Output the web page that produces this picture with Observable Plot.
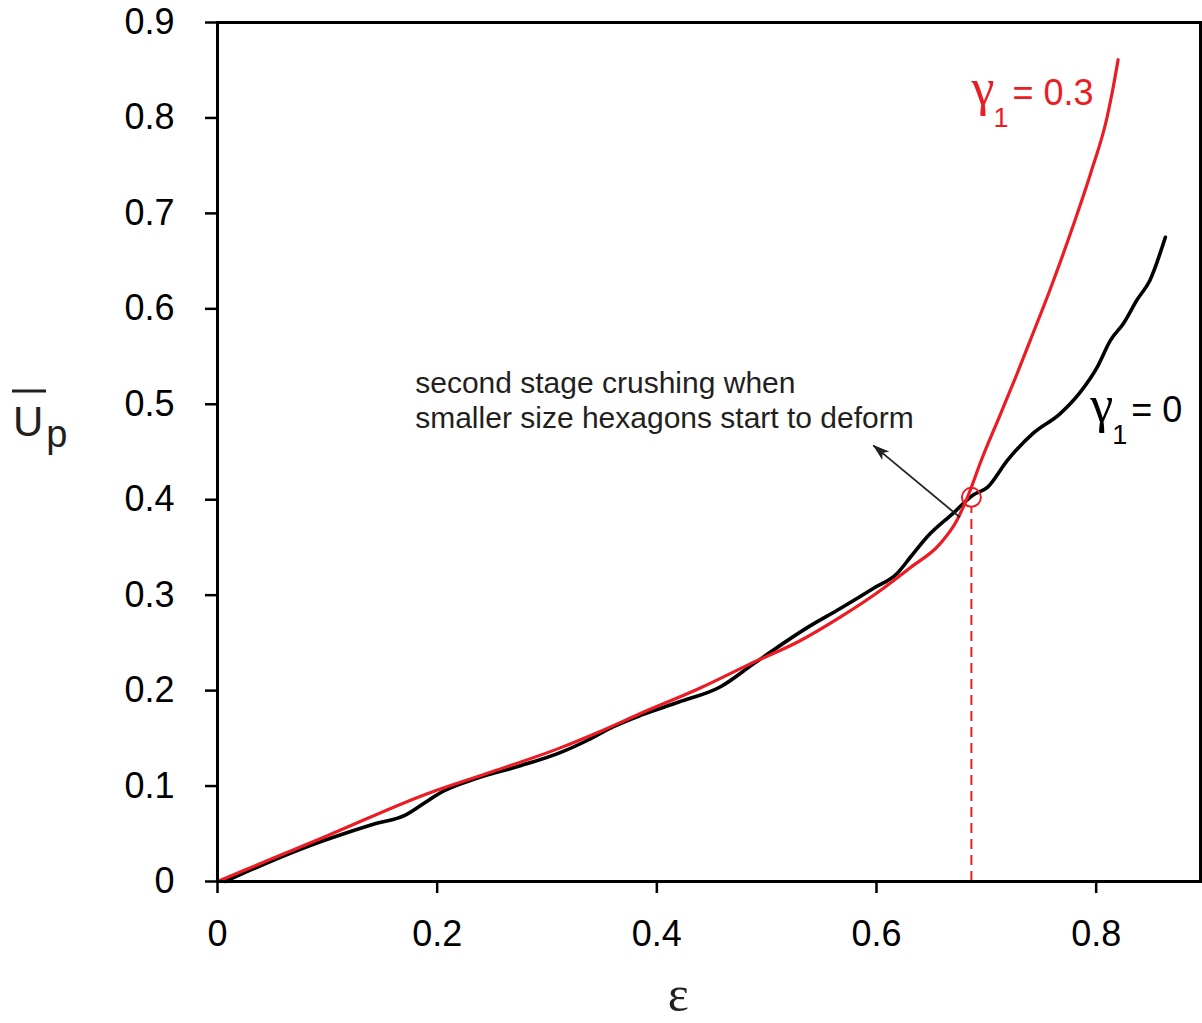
<!DOCTYPE html>
<html>
<head>
<meta charset="utf-8">
<script src="https://cdn.jsdelivr.net/npm/d3@7"></script>
<script src="https://cdn.jsdelivr.net/npm/@observablehq/plot@0.6"></script>
<style>
  html, body { margin: 0; padding: 0; background: #fff; }
  #chart { width: 1202px; height: 1023px; }
</style>
</head>
<body>
<div id="chart"></div>
<script>
// γ1 = 0 (black)
const eps0 = [0.007, 0.04, 0.085, 0.115, 0.145, 0.17, 0.188, 0.203, 0.236, 0.275, 0.312, 0.337, 0.36, 0.385, 0.42, 0.458, 0.488, 0.537, 0.567, 0.597, 0.619, 0.631, 0.646, 0.67, 0.688, 0.701, 0.719, 0.743, 0.767, 0.785, 0.801, 0.813, 0.825, 0.837, 0.849, 0.863];
const up0  = [0.0, 0.017, 0.038, 0.05, 0.061, 0.069, 0.082, 0.093, 0.108, 0.121, 0.135, 0.148, 0.162, 0.174, 0.188, 0.204, 0.228, 0.266, 0.286, 0.307, 0.323, 0.34, 0.361, 0.386, 0.405, 0.413, 0.441, 0.47, 0.49, 0.512, 0.539, 0.567, 0.585, 0.609, 0.63, 0.675];
// γ1 = 0.3 (red)
const eps3 = [0.0, 0.05, 0.1, 0.191, 0.25, 0.312, 0.35, 0.385, 0.44, 0.485, 0.53, 0.567, 0.6, 0.631, 0.658, 0.673, 0.683, 0.695, 0.713, 0.728, 0.74, 0.758, 0.779, 0.795, 0.81, 0.815, 0.82];
const up3  = [0.0, 0.024, 0.048, 0.092, 0.115, 0.14, 0.158, 0.176, 0.203, 0.228, 0.252, 0.277, 0.302, 0.329, 0.354, 0.378, 0.403, 0.44, 0.49, 0.532, 0.567, 0.62, 0.687, 0.742, 0.801, 0.829, 0.861];

const xTicks = [0, 0.2, 0.4, 0.6, 0.8];
const yTicks = [0, 0.1, 0.2, 0.3, 0.4, 0.5, 0.6, 0.7, 0.8, 0.9];

// second-stage crushing point
const markX = [0.6864];
const markY = [0.4025];
const arrowFrom = [0.676, 0.3815];
const arrowTo = [0.597, 0.457];

const noteLines = ["second stage crushing when", "smaller size hexagons start to deform"];
const noteY = [0.5115, 0.475];
const labelRed = {g: "γ", sub: "1", rest: "= 0.3", x: 0.687, y: 0.813};
const labelBlack = {g: "γ", sub: "1", rest: "= 0", x: 0.795, y: 0.481};

const RED = "#ec1c24";

const black = eps0.map((e, i) => ({x: e, y: up0[i]}));
const red = eps3.map((e, i) => ({x: e, y: up3[i]}));

const plot = Plot.plot({
  width: 1202,
  height: 1023,
  marginLeft: 217,
  marginRight: 2,
  marginTop: 22,
  marginBottom: 142,
  x: {domain: [0, 0.895]},
  y: {domain: [0, 0.9]},
  style: {fontFamily: "'Liberation Sans', Arial, sans-serif", fontSize: "36px", background: "white", color: "black"},
  marks: [
    Plot.line(black, {x: "x", y: "y", stroke: "#000", strokeWidth: 3.6, curve: "monotone-x"}),
    Plot.line(red, {x: "x", y: "y", stroke: RED, strokeWidth: 3.2, curve: "monotone-x"}),
    Plot.ruleX(markX, {x: d => d, y1: 0, y2: 0.392, stroke: RED, strokeWidth: 2, strokeDasharray: "10,6"}),
    Plot.dot(markX.map((d, i) => ({x: d, y: markY[i]})), {x: "x", y: "y", r: 9.5, stroke: RED, strokeWidth: 2, fill: "none"}),
    Plot.link([{x1: arrowFrom[0], y1: arrowFrom[1], x2: arrowTo[0], y2: arrowTo[1]}], {x1: "x1", y1: "y1", x2: "x2", y2: "y2", stroke: "#222", strokeWidth: 1.8}),
    Plot.text(noteLines.map((t, i) => ({t, y: noteY[i]})), {x: 0.18, y: "y", text: "t", textAnchor: "start", lineAnchor: "bottom", fontSize: 30, fill: "#231f20"}),
    Plot.frame({stroke: "#000", strokeWidth: 3}),
    Plot.axisX({ticks: xTicks, tickSize: 12, tickPadding: 27, strokeWidth: 2.5, label: null, fontSize: 36, tickFormat: d => d === 0 ? "0" : d.toFixed(1)}),
    Plot.axisY({ticks: yTicks, tickSize: 12, tickPadding: 31, strokeWidth: 2.5, label: null, fontSize: 36, tickFormat: d => d === 0 ? "0" : d.toFixed(1)})
  ]
});

document.getElementById("chart").appendChild(plot);

const sx = plot.scale("x"), sy = plot.scale("y");
const svg = d3.select(plot);

// filled arrow head at the arrow's end, oriented along the link (pixel space via Plot scales)
{
  const x1 = sx.apply(arrowFrom[0]), y1 = sy.apply(arrowFrom[1]);
  const x2 = sx.apply(arrowTo[0]), y2 = sy.apply(arrowTo[1]);
  const L = Math.hypot(x2 - x1, y2 - y1);
  const ux = (x2 - x1) / L, uy = (y2 - y1) / L;
  const len = 17, half = 5.5;
  const bx = x2 - ux * len, by = y2 - uy * len;
  const pts = [[x2, y2], [bx - uy * half, by + ux * half], [x2 - ux * len * 0.75, y2 - uy * len * 0.75], [bx + uy * half, by - ux * half]];
  svg.append("polygon").attr("points", pts.map(p => p.join(",")).join(" ")).attr("fill", "#222");
}

function gammaLabel(lbl, color) {
  const t = svg.append("text")
    .attr("x", sx.apply(lbl.x))
    .attr("y", sy.apply(lbl.y))
    .attr("text-anchor", "start")
    .attr("fill", color)
    .attr("font-family", "'Liberation Sans', Arial, sans-serif")
    .attr("font-size", 36);
  t.append("tspan").attr("font-family", "'Liberation Serif', 'Times New Roman', serif").attr("font-size", 52).text(lbl.g);
  t.append("tspan").attr("font-size", 27).attr("dy", 22).attr("dx", -1).text(lbl.sub);
  t.append("tspan").attr("dy", -22).attr("dx", 4).text(lbl.rest);
}
gammaLabel(labelRed, RED);
gammaLabel(labelBlack, "#000");

// y axis title: U-bar with subscript p
const yt = svg.append("g").attr("font-family", "'Liberation Sans', Arial, sans-serif").attr("text-anchor", "start");
yt.append("text").attr("x", 13).attr("y", 436).attr("font-size", 42).attr("fill", "#231f20").text("U")
  .append("tspan").attr("font-size", 38).attr("dx", 3).attr("dy", 11).text("p");
yt.append("line").attr("x1", 12).attr("x2", 46).attr("y1", 391).attr("y2", 391).attr("stroke", "#231f20").attr("stroke-width", 3);

// x axis title: epsilon
svg.append("text")
  .attr("x", sx.apply(0.42)).attr("y", 1011)
  .attr("text-anchor", "middle")
  .attr("font-family", "'Liberation Serif', 'Times New Roman', serif")
  .attr("font-size", 50).attr("fill", "#231f20")
  .text("ε");
</script>
</body>
</html>
